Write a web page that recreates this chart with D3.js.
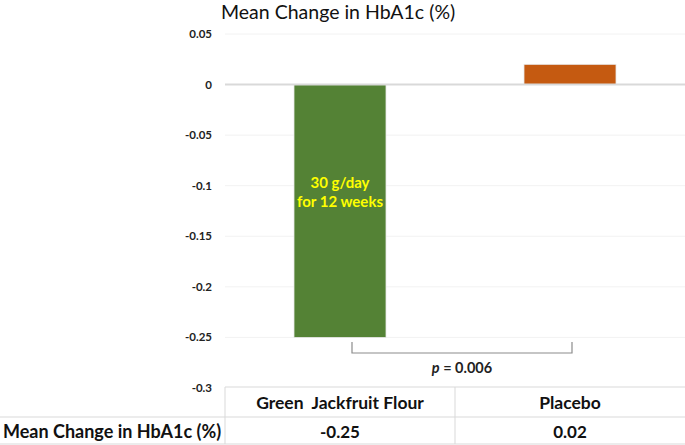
<!DOCTYPE html>
<html>
<head>
<meta charset="utf-8">
<script src="https://cdn.jsdelivr.net/npm/d3@7"></script>
<style>
  body { margin: 0; background: #fff; }
  text { font-family: Lato, "Open Sans", sans-serif; }
</style>
</head>
<body>
<div id="chart"></div>
<script>
// data
var categories = ["Green  Jackfruit Flour", "Placebo"];
var values = [-0.25, 0.02];
var valueLabels = ["-0.25", "0.02"];
var barColors = ["#548235", "#c55a11"];
var yTicks = [0.05, 0, -0.05, -0.1, -0.15, -0.2, -0.25, -0.3];
var title = "Mean Change in HbA1c (%)";
var rowLabel = "Mean Change in HbA1c (%)";
var barNote = ["30 g/day", "for 12 weeks"];
var pLabel = "0.006";

var W = 685, H = 445;
var svg = d3.select("#chart").append("svg")
  .attr("width", W).attr("height", H);

var x = d3.scaleBand()
  .domain(categories)
  .range([225, 685])
  .paddingInner(0).paddingOuter(0);

var y = d3.scaleLinear()
  .domain([-0.3, 0.05])
  .range([388, 34]);

// gridlines
svg.append("g").selectAll("line")
  .data(yTicks.filter(function(d) { return d !== 0 && d !== -0.3; }))
  .enter().append("line")
    .attr("x1", 225).attr("x2", W)
    .attr("y1", function(d) { return y(d); })
    .attr("y2", function(d) { return y(d); })
    .attr("stroke", "#f2f2f2")
    .attr("stroke-width", 1);

// y labels
svg.append("g").selectAll("text")
  .data(yTicks)
  .enter().append("text")
    .attr("x", 212)
    .attr("y", function(d) { return y(d); })
    .attr("dy", "0.35em")
    .attr("text-anchor", "end")
    .attr("font-size", 11.5)
    .attr("font-weight", "bold")
    .attr("fill", "#222")
    .text(function(d) { return d3.format("")(d).replace("−", "-"); });

// bars
var bw = x.bandwidth() * 0.4;
svg.append("g").selectAll("rect")
  .data(values)
  .enter().append("rect")
    .attr("x", function(d, i) { return x(categories[i]) + x.bandwidth() / 2 - bw / 2; })
    .attr("y", function(d) { return y(Math.max(0, d)); })
    .attr("width", bw)
    .attr("height", function(d) { return Math.abs(y(d) - y(0)); })
    .attr("fill", function(d, i) { return barColors[i]; })
    .attr("stroke", "#e8e8e8")
    .attr("stroke-width", 0.8);

// zero line
svg.append("line")
  .attr("x1", 225).attr("x2", W)
  .attr("y1", y(0)).attr("y2", y(0))
  .attr("stroke", "#d9d9d9")
  .attr("stroke-width", 2);

// note inside green bar
var cx0 = x(categories[0]) + x.bandwidth() / 2;
svg.append("g").selectAll("text")
  .data(barNote)
  .enter().append("text")
    .attr("x", cx0)
    .attr("y", function(d, i) { return 183 + i * 19; })
    .attr("dy", "0.35em")
    .attr("text-anchor", "middle")
    .attr("font-size", 15)
    .attr("font-weight", "bold")
    .attr("fill", "#ffff00")
    .text(function(d) { return d; });

// significance bracket
var bx1 = cx0 + 12;
var bx2 = x(categories[1]) + x.bandwidth() / 2 + 2;
svg.append("path")
  .attr("d", "M" + bx1 + "," + 342 + "V" + 353 + "H" + bx2 + "V" + 342)
  .attr("fill", "none")
  .attr("stroke", "#8c8c8c")
  .attr("stroke-width", 1.2);

var pt = svg.append("text")
  .attr("x", (bx1 + bx2) / 2)
  .attr("y", 373)
  .attr("text-anchor", "middle")
  .attr("font-size", 14.5)
  .attr("font-weight", "bold")
  .attr("fill", "#222");
pt.append("tspan").attr("font-style", "italic").text("p");
pt.append("tspan").text(" = " + pLabel);

// title
svg.append("text")
  .attr("x", 221)
  .attr("y", 19)
  .attr("font-size", 19.5)
  .attr("fill", "#111")
  .text(title);

// data table
var rowTop = 387, rowMid = 417, rowBot = 444;
var grid = svg.append("g").attr("stroke", "#d9d9d9").attr("stroke-width", 1);
grid.append("line").attr("x1", 225).attr("x2", W).attr("y1", rowTop).attr("y2", rowTop);
grid.append("line").attr("x1", 0).attr("x2", W).attr("y1", rowMid).attr("y2", rowMid);
grid.append("line").attr("x1", 0).attr("x2", W).attr("y1", rowBot).attr("y2", rowBot);
grid.append("line").attr("x1", 225).attr("x2", 225).attr("y1", rowTop).attr("y2", rowBot);
grid.append("line").attr("x1", x(categories[1])).attr("x2", x(categories[1])).attr("y1", rowTop).attr("y2", rowBot);

svg.append("g").selectAll("text")
  .data(categories)
  .enter().append("text")
    .attr("x", function(d) { return x(d) + x.bandwidth() / 2; })
    .attr("y", 409)
    .attr("text-anchor", "middle")
    .attr("font-size", 17.5)
    .attr("font-weight", "bold")
    .attr("fill", "#111")
    .attr("xml:space", "preserve")
    .style("white-space", "pre")
    .text(function(d) { return d; });

svg.append("g").selectAll("text")
  .data(valueLabels)
  .enter().append("text")
    .attr("x", function(d, i) { return x(categories[i]) + x.bandwidth() / 2; })
    .attr("y", 438)
    .attr("text-anchor", "middle")
    .attr("font-size", 17)
    .attr("font-weight", "bold")
    .attr("fill", "#111")
    .text(function(d) { return d; });

svg.append("text")
  .attr("x", 3)
  .attr("y", 438)
  .attr("font-size", 18)
  .attr("font-weight", "bold")
  .attr("fill", "#111")
  .text(rowLabel);
</script>
</body>
</html>
